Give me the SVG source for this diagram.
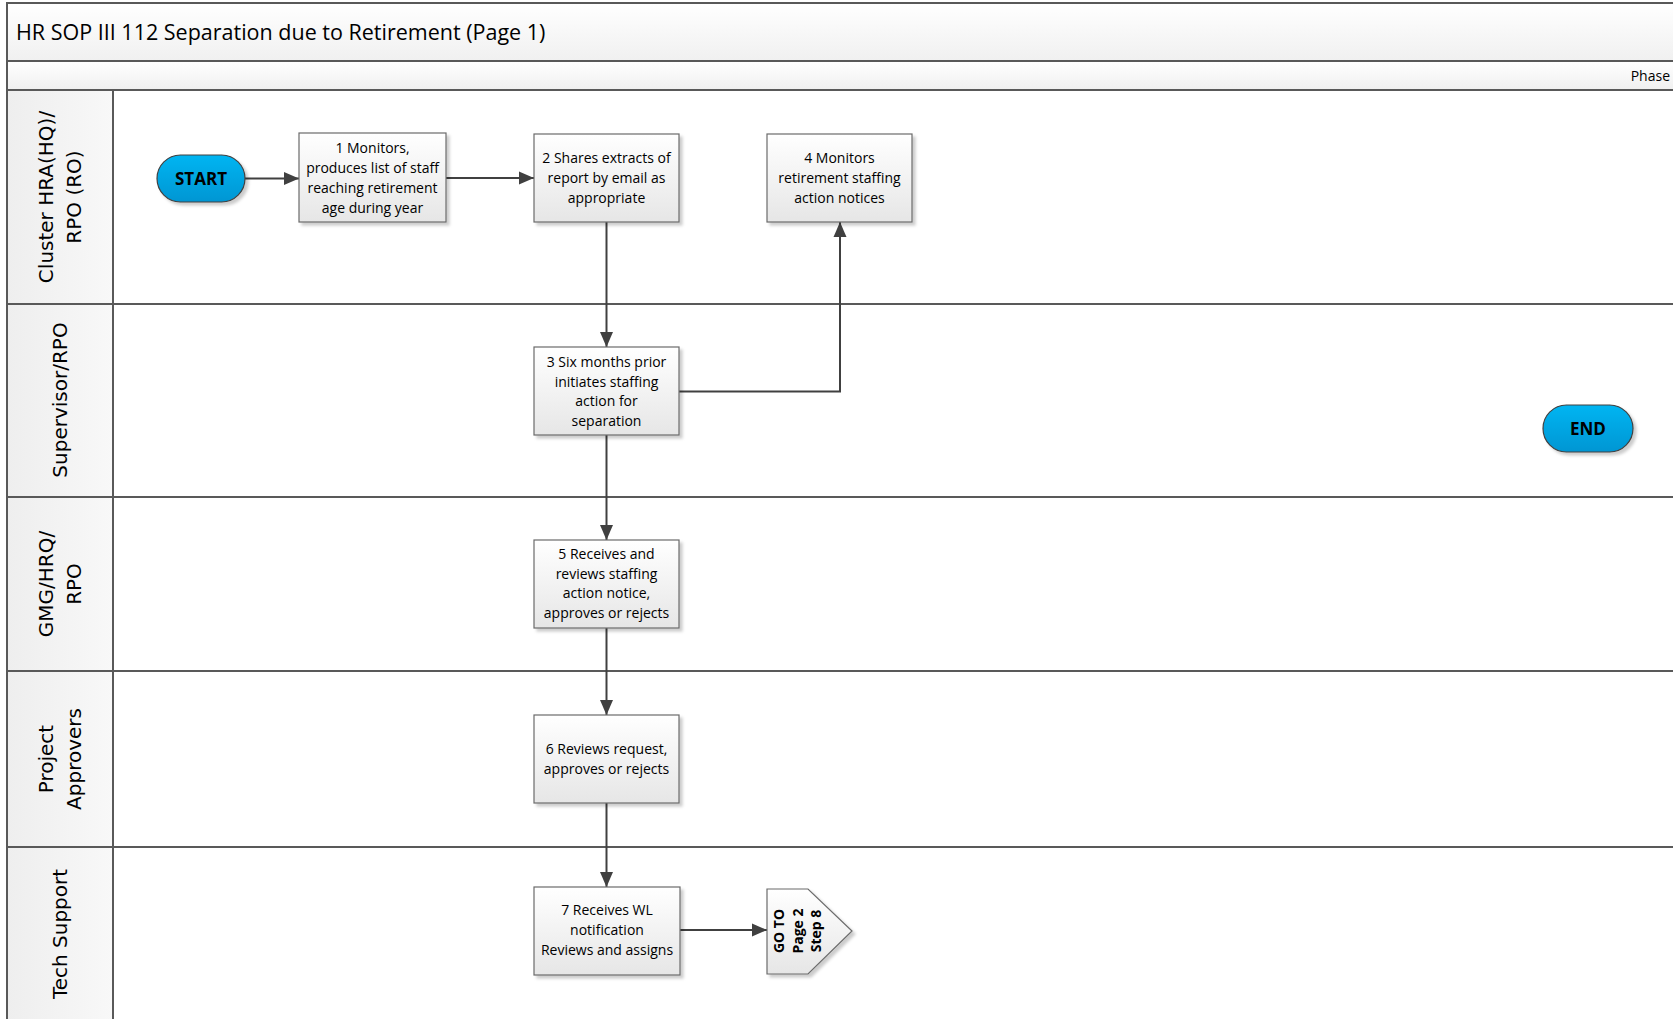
<svg xmlns="http://www.w3.org/2000/svg" width="1673" height="1019" viewBox="0 0 1673 1019">
<style>
.band{stroke:#595959;stroke-width:2}
.lane{fill:#ffffff;stroke:#595959;stroke-width:2}
.hdr{fill:url(#gHdr);stroke:#595959;stroke-width:2}
.lt{font-family:"DejaVu Sans",sans-serif;font-size:20px;fill:#000;text-anchor:middle}
.box{fill:url(#gBox);stroke:#6b6b6b;stroke-width:1.2;filter:url(#sh)}
.term{fill:url(#gTerm);stroke:#404040;stroke-width:1.2;filter:url(#sh)}
.bt{font-family:"Open Sans",sans-serif;font-size:14px;fill:#000;text-anchor:middle}
.tt{font-family:"Open Sans",sans-serif;font-size:17px;font-weight:bold;fill:#000;text-anchor:middle}
.gt{font-family:"Open Sans",sans-serif;font-size:14px;font-weight:bold;fill:#000;text-anchor:middle}
.con{fill:none;stroke:#404040;stroke-width:2;marker-end:url(#arr)}
</style>
<defs>
<linearGradient id="gBand" x1="0" y1="0" x2="0" y2="1"><stop offset="0" stop-color="#ffffff"/><stop offset="1" stop-color="#f0f0f0"/></linearGradient>
<linearGradient id="gHdr" x1="0" y1="0" x2="1" y2="0"><stop offset="0" stop-color="#eeeeee"/><stop offset="1" stop-color="#f8f8f8"/></linearGradient>
<linearGradient id="gBox" x1="0" y1="0" x2="0" y2="1"><stop offset="0" stop-color="#ffffff"/><stop offset="1" stop-color="#e6e6e6"/></linearGradient>
<linearGradient id="gTerm" x1="0" y1="0" x2="0" y2="1"><stop offset="0" stop-color="#05b5f2"/><stop offset="1" stop-color="#0096d3"/></linearGradient>
<filter id="sh" x="-10%" y="-10%" width="130%" height="130%"><feDropShadow dx="3" dy="3" stdDeviation="1.5" flood-color="#000" flood-opacity="0.2"/></filter>
<marker id="arr" markerUnits="userSpaceOnUse" markerWidth="15" markerHeight="15" viewBox="0 0 15 15" refX="15" refY="7.5" orient="auto"><path d="M0,1 L15,7.5 L0,14 z" fill="#404040"/></marker>
</defs>

<g id="frame">
<rect class="band" x="7" y="3" width="1680" height="58" fill="url(#gBand)"/>
<text x="16" y="40" font-family="Open Sans, sans-serif" font-size="21.5px" fill="#000">HR SOP III 112 Separation due to Retirement (Page 1)</text>
<rect class="band" x="7" y="61" width="1680" height="29" fill="url(#gBand)"/>
<text x="1670" y="81" font-family="Open Sans, sans-serif" font-size="14px" fill="#000" text-anchor="end">Phase</text>
</g>

<g id="lanes">
<g id="lane1"><rect class="lane" x="7" y="90" width="1680" height="214"/><rect class="hdr" x="7" y="90" width="106" height="214"/>
<text class="lt" transform="translate(53,197) rotate(-90)"><tspan x="0" y="0">Cluster HRA(HQ)/</tspan><tspan x="0" y="28">RPO (RO)</tspan></text></g>
<g id="lane2"><rect class="lane" x="7" y="304" width="1680" height="193"/><rect class="hdr" x="7" y="304" width="106" height="193"/>
<text class="lt" transform="translate(67,400) rotate(-90)">Supervisor/RPO</text></g>
<g id="lane3"><rect class="lane" x="7" y="497" width="1680" height="174"/><rect class="hdr" x="7" y="497" width="106" height="174"/>
<text class="lt" transform="translate(53,584) rotate(-90)"><tspan x="0" y="0">GMG/HRQ/</tspan><tspan x="0" y="28">RPO</tspan></text></g>
<g id="lane4"><rect class="lane" x="7" y="671" width="1680" height="176"/><rect class="hdr" x="7" y="671" width="106" height="176"/>
<text class="lt" transform="translate(53,759) rotate(-90)"><tspan x="0" y="0">Project</tspan><tspan x="0" y="28">Approvers</tspan></text></g>
<g id="lane5"><rect class="lane" x="7" y="847" width="1680" height="180"/><rect class="hdr" x="7" y="847" width="106" height="180"/>
<text class="lt" transform="translate(67,934) rotate(-90)">Tech Support</text></g>
</g>

<g id="connectors">
<path class="con" d="M245,178.5 H299"/>
<path class="con" d="M446,178 H534"/>
<path class="con" d="M606.5,222 V347"/>
<path class="con" d="M679,391.5 H840 V222"/>
<path class="con" d="M606.5,435 V540"/>
<path class="con" d="M606.5,628 V715"/>
<path class="con" d="M606.5,803 V887"/>
<path class="con" d="M680,930 H767"/>
</g>

<g id="start"><rect class="term" x="157" y="155" width="88" height="47" rx="23.5"/><text class="tt" x="201" y="185">START</text></g>
<g id="end"><rect class="term" x="1543" y="405" width="90" height="47" rx="23.5"/><text class="tt" x="1588" y="435">END</text></g>

<g id="step1"><rect class="box" x="299" y="133" width="147" height="89"/>
<text class="bt"><tspan x="372.5" y="152.5">1 Monitors,</tspan><tspan x="372.5" y="172.5">produces list of staff</tspan><tspan x="372.5" y="192.5">reaching retirement</tspan><tspan x="372.5" y="212.5">age during year</tspan></text></g>

<g id="step2"><rect class="box" x="534" y="134" width="145" height="88"/>
<text class="bt"><tspan x="606.5" y="163">2 Shares extracts of</tspan><tspan x="606.5" y="183">report by email as</tspan><tspan x="606.5" y="202.5">appropriate</tspan></text></g>

<g id="step4"><rect class="box" x="767" y="134" width="145" height="88"/>
<text class="bt"><tspan x="839.5" y="163">4 Monitors</tspan><tspan x="839.5" y="183">retirement staffing</tspan><tspan x="839.5" y="202.5">action notices</tspan></text></g>

<g id="step3"><rect class="box" x="534" y="347" width="145" height="88"/>
<text class="bt"><tspan x="606.5" y="367">3 Six months prior</tspan><tspan x="606.5" y="386.5">initiates staffing</tspan><tspan x="606.5" y="406">action for</tspan><tspan x="606.5" y="425.5">separation</tspan></text></g>

<g id="step5"><rect class="box" x="534" y="540" width="145" height="88"/>
<text class="bt"><tspan x="606.5" y="559">5 Receives and</tspan><tspan x="606.5" y="578.5">reviews staffing</tspan><tspan x="606.5" y="598">action notice,</tspan><tspan x="606.5" y="618">approves or rejects</tspan></text></g>

<g id="step6"><rect class="box" x="534" y="715" width="145" height="88"/>
<text class="bt"><tspan x="606.5" y="754">6 Reviews request,</tspan><tspan x="606.5" y="773.5">approves or rejects</tspan></text></g>

<g id="step7"><rect class="box" x="534" y="887" width="146" height="88"/>
<text class="bt"><tspan x="607" y="915">7 Receives WL</tspan><tspan x="607" y="935">notification</tspan><tspan x="607" y="955">Reviews and assigns</tspan></text></g>

<g id="goto"><path class="box" d="M767,889 H808 L852,931 L808,974 H767 Z"/>
<text class="gt" transform="translate(798,931) rotate(-90)"><tspan x="0" y="-14">GO TO</tspan><tspan x="0" y="4.5">Page 2</tspan><tspan x="0" y="23">Step 8</tspan></text></g>
</svg>
